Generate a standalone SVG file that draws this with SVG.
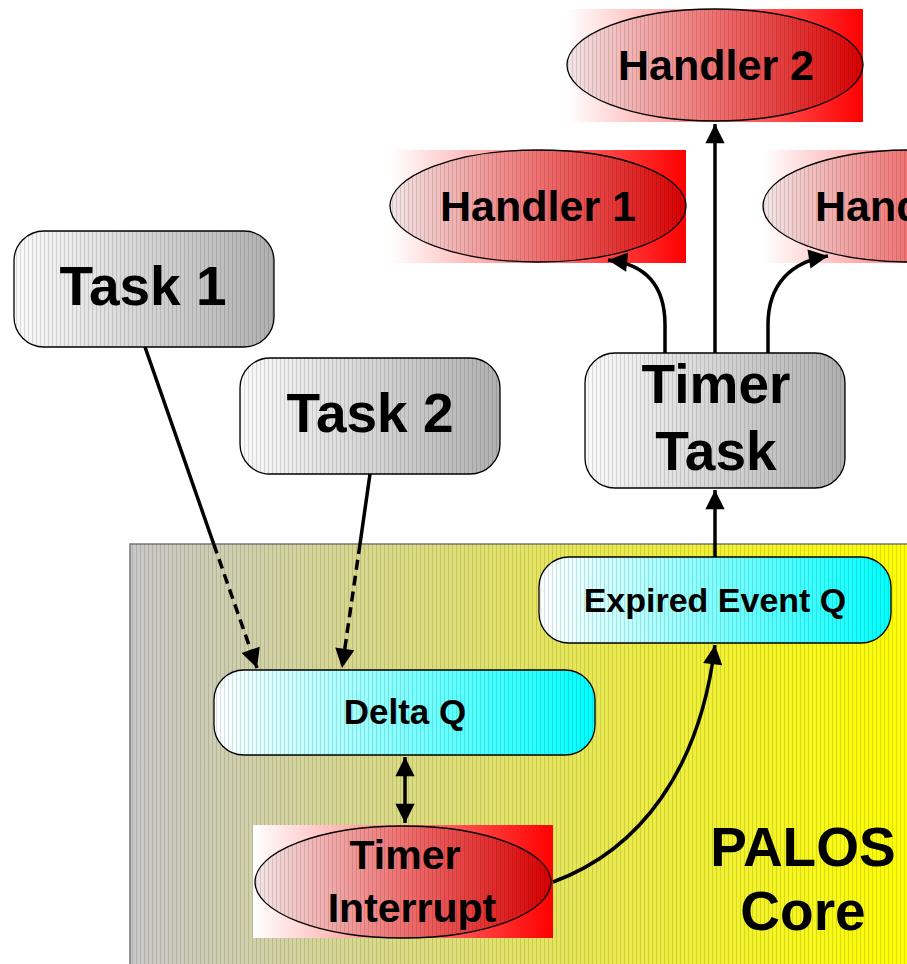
<svg xmlns="http://www.w3.org/2000/svg" width="907" height="964" viewBox="0 0 907 964">
<style>
  .t{font-family:"Liberation Sans",Arial,sans-serif;font-weight:bold;fill:#000;text-anchor:middle}
  .edge{stroke:#000;stroke-width:3.5;fill:none}
  .dash{stroke-dasharray:10,6}
  .ol{stroke:#000;stroke-width:1.3}
</style>
<defs>
  <linearGradient id="gRedBg" x1="0" y1="0" x2="1" y2="0">
    <stop offset="0" stop-color="#ffffff"/><stop offset="1" stop-color="#ff0000"/>
  </linearGradient>
  <linearGradient id="gRedEl" x1="0" y1="0" x2="1" y2="0">
    <stop offset="0" stop-color="#f2e6e6"/><stop offset="0.5" stop-color="#f07070"/><stop offset="1" stop-color="#d80000"/>
  </linearGradient>
  <linearGradient id="gGray" x1="0" y1="0" x2="1" y2="0">
    <stop offset="0" stop-color="#fafafa"/><stop offset="1" stop-color="#b0b0b0"/>
  </linearGradient>
  <linearGradient id="gCyan" x1="0" y1="0" x2="1" y2="0">
    <stop offset="0" stop-color="#ffffff"/><stop offset="1" stop-color="#00ffff"/>
  </linearGradient>
  <linearGradient id="gCore" x1="0" y1="0" x2="1" y2="0">
    <stop offset="0" stop-color="#c8c8c8"/><stop offset="1" stop-color="#ffff00"/>
  </linearGradient>
  <pattern id="stripes" width="4" height="10" patternUnits="userSpaceOnUse">
    <rect x="0" y="0" width="1" height="10" fill="#000" fill-opacity="0.12"/>
  </pattern>
  <marker id="arr" viewBox="0 0 10 10" refX="10" refY="5" markerWidth="6.5" markerHeight="5.5" orient="auto" markerUnits="strokeWidth">
    <path d="M0,0 L10,5 L0,10 Z" fill="#000"/>
  </marker>
  <marker id="arrS" viewBox="0 0 10 10" refX="0" refY="5" markerWidth="6.5" markerHeight="5.5" orient="auto" markerUnits="strokeWidth">
    <path d="M10,0 L0,5 L10,10 Z" fill="#000"/>
  </marker>
</defs>

<g id="palos-core">
  <rect x="130" y="544" width="790" height="430" fill="url(#gCore)" stroke="#777" stroke-width="1.5"/>
  <rect x="130" y="544" width="790" height="430" fill="url(#stripes)"/>
  <text class="t" x="803" y="866" font-size="55">PALOS</text>
  <text class="t" x="803" y="930" font-size="55">Core</text>
</g>

<g id="handler2">
  <rect x="567" y="9" width="296" height="113" fill="url(#gRedBg)"/>
  <ellipse cx="715" cy="65" rx="148" ry="56" fill="url(#gRedEl)" class="ol"/>
  <ellipse cx="715" cy="65" rx="148" ry="56" fill="url(#stripes)"/>
  <text class="t" x="716" y="80" font-size="43">Handler 2</text>
</g>

<g id="handler1">
  <rect x="390" y="150" width="296" height="113" fill="url(#gRedBg)"/>
  <ellipse cx="538" cy="206" rx="148" ry="56" fill="url(#gRedEl)" class="ol"/>
  <ellipse cx="538" cy="206" rx="148" ry="56" fill="url(#stripes)"/>
  <text class="t" x="538" y="221" font-size="43">Handler 1</text>
</g>

<g id="handler3">
  <rect x="763" y="150" width="296" height="113" fill="url(#gRedBg)"/>
  <ellipse cx="911" cy="206" rx="148" ry="56" fill="url(#gRedEl)" class="ol"/>
  <ellipse cx="911" cy="206" rx="148" ry="56" fill="url(#stripes)"/>
  <text class="t" x="815" y="221" font-size="43" style="text-anchor:start">Hand</text>
</g>

<g id="task1">
  <rect x="14" y="231" width="260" height="116" rx="30" fill="url(#gGray)" class="ol"/>
  <rect x="14" y="231" width="260" height="116" rx="30" fill="url(#stripes)"/>
  <text class="t" x="143" y="305" font-size="55">Task 1</text>
</g>

<g id="task2">
  <rect x="240" y="358" width="260" height="116" rx="30" fill="url(#gGray)" class="ol"/>
  <rect x="240" y="358" width="260" height="116" rx="30" fill="url(#stripes)"/>
  <text class="t" x="370" y="432" font-size="55">Task 2</text>
</g>

<g id="timer-task">
  <rect x="585" y="353" width="260" height="135" rx="30" fill="url(#gGray)" class="ol"/>
  <rect x="585" y="353" width="260" height="135" rx="30" fill="url(#stripes)"/>
  <text class="t" x="716" y="403" font-size="55">Timer</text>
  <text class="t" x="716" y="470" font-size="55">Task</text>
</g>

<g id="expired-event-q">
  <rect x="539" y="557" width="352" height="86" rx="30" fill="url(#gCyan)" class="ol"/>
  <rect x="539" y="557" width="352" height="86" rx="30" fill="url(#stripes)"/>
  <text class="t" x="715" y="612" font-size="34">Expired Event Q</text>
</g>

<g id="delta-q">
  <rect x="214" y="670" width="381" height="85" rx="30" fill="url(#gCyan)" class="ol"/>
  <rect x="214" y="670" width="381" height="85" rx="30" fill="url(#stripes)"/>
  <text class="t" x="405" y="724" font-size="35">Delta Q</text>
</g>

<g id="timer-interrupt">
  <rect x="253" y="825" width="300" height="113" fill="url(#gRedBg)"/>
  <ellipse cx="403" cy="882" rx="148" ry="56" fill="url(#gRedEl)" class="ol"/>
  <ellipse cx="403" cy="882" rx="148" ry="56" fill="url(#stripes)"/>
  <text class="t" x="405" y="869" font-size="41">Timer</text>
  <text class="t" x="412" y="922" font-size="41">Interrupt</text>
</g>

<g id="connectors">
  <line class="edge" x1="145" y1="347" x2="213.7" y2="544"/>
  <line class="edge dash" x1="213.7" y1="544" x2="257" y2="668" marker-end="url(#arr)"/>
  <line class="edge" x1="370" y1="474" x2="360" y2="544"/>
  <line class="edge dash" x1="360" y1="544" x2="342" y2="668" marker-end="url(#arr)"/>
  <line class="edge" x1="405" y1="757" x2="405" y2="823" marker-start="url(#arrS)" marker-end="url(#arr)"/>
  <path class="edge" d="M553,882 C640,850 700,770 715,645" marker-end="url(#arr)"/>
  <line class="edge" x1="715" y1="557" x2="715" y2="490" marker-end="url(#arr)"/>
  <line class="edge" x1="715" y1="353" x2="715" y2="124" marker-end="url(#arr)"/>
  <path class="edge" d="M665,353 L665,325 C665,285 645,264 608,260" marker-end="url(#arr)"/>
  <path class="edge" d="M768,353 L768,325 C768,285 790,262 828,256" marker-end="url(#arr)"/>
</g>
</svg>
